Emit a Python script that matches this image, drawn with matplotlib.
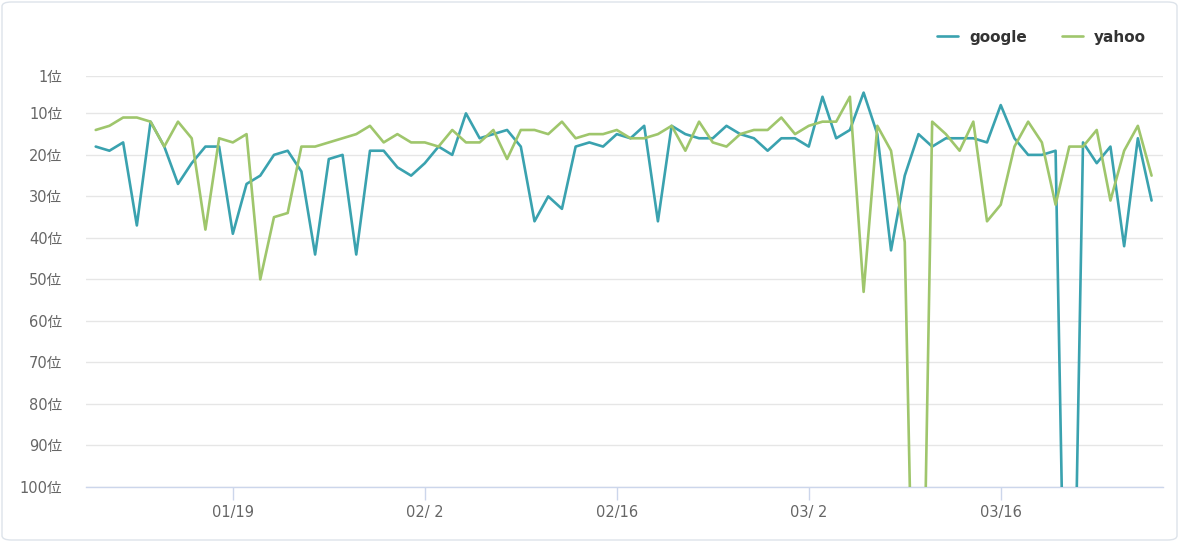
import numpy as np
import pandas as pd
import matplotlib
matplotlib.use("Agg")
import matplotlib.pyplot as plt
import matplotlib.dates as mdates
from matplotlib.patches import FancyBboxPatch

# ---------------------------------------------------------------------------
# Data: daily search ranking (200 = out of ranking, drawn off the chart)
# ---------------------------------------------------------------------------
START_DATE = "2023-01-09"

GOOGLE = [18, 19, 17, 37, 12, 18, 27, 22, 18, 18,
          39, 27, 25, 20, 19, 24, 44, 21, 20, 44,
          19, 19, 23, 25, 22, 18, 20, 10, 16, 15,
          14, 18, 36, 30, 33, 18, 17, 18, 15, 16,
          13, 36, 13, 15, 16, 16, 13, 15, 16, 19,
          16, 16, 18, 6, 16, 14, 5, 15, 43, 25,
          15, 18, 16, 16, 16, 17, 8, 16, 20, 20,
          19, 200, 17, 22, 18, 42, 16, 31]

YAHOO = [14, 13, 11, 11, 12, 18, 12, 16, 38, 16,
         17, 15, 50, 35, 34, 18, 18, 17, 16, 15,
         13, 17, 15, 17, 17, 18, 14, 17, 17, 14,
         21, 14, 14, 15, 12, 16, 15, 15, 14, 16,
         16, 15, 13, 19, 12, 17, 18, 15, 14, 14,
         11, 15, 13, 12, 12, 6, 53, 13, 19, 41,
         200, 12, 15, 19, 12, 36, 32, 18, 12, 17,
         32, 18, 18, 14, 31, 19, 13, 25]

SERIES_NAMES = ["google", "yahoo"]
TICK_DATES = ["2023-01-19", "2023-02-02", "2023-02-16", "2023-03-02", "2023-03-16"]
Y_TICKS = [1, 10, 20, 30, 40, 50, 60, 70, 80, 90, 100]

COLORS = ["#3aa2af", "#9fc66c"]
LABEL_COLOR = "#666666"

# ---------------------------------------------------------------------------
# Plot
# ---------------------------------------------------------------------------
# wide digits from DejaVu, 位 from the CJK family
plt.rcParams["font.family"] = ["DejaVu Sans", "Noto Sans CJK JP"]

dates = pd.date_range(START_DATE, periods=len(GOOGLE), freq="D")

fig = plt.figure(figsize=(11.79, 5.42), dpi=100)
W, H = 1179, 542
left, right, top, bottom = 86, 1163, 76, 487
ax = fig.add_axes([left / W, 1 - bottom / H, (right - left) / W, (bottom - top) / H])

# light rounded frame around the whole chart
frame = FancyBboxPatch((2 / W, 2 / H), 1 - 4 / W, 1 - 4 / H,
                       boxstyle="round,pad=0,rounding_size=0.008",
                       transform=fig.transFigure, facecolor="none",
                       edgecolor="#dde3ea", linewidth=1.0)
fig.patches.append(frame)

for values, name, colour in zip([GOOGLE, YAHOO], SERIES_NAMES, COLORS):
    ax.plot(dates, values, color=colour, linewidth=1.9, label=name,
            solid_joinstyle="round", solid_capstyle="round", zorder=3)

ax.set_ylim(100, 1)
ax.set_xlim(dates[0] - pd.Timedelta(hours=17), dates[-1] + pd.Timedelta(hours=20))

ax.set_yticks(Y_TICKS)
ax.set_yticklabels([f"{v}位" for v in Y_TICKS])
ax.grid(axis="y", color="#e6e6e6", linewidth=1.0)
ax.set_axisbelow(True)

tick_dates = pd.to_datetime(TICK_DATES)
ax.set_xticks(tick_dates)
ax.xaxis.set_major_formatter(
    matplotlib.ticker.FuncFormatter(
        lambda x, pos: (lambda d: f"{d.month:02d}/{d.day:2d}")(mdates.num2date(x))))

for side in ["top", "right", "left"]:
    ax.spines[side].set_visible(False)
ax.spines["bottom"].set_color("#ccd6eb")
ax.spines["bottom"].set_linewidth(1.0)

ax.tick_params(axis="y", length=0, pad=17, labelsize=10.5, labelcolor=LABEL_COLOR)
ax.tick_params(axis="x", length=9, width=1.0, color="#ccd6eb", pad=4,
               labelsize=10.5, labelcolor=LABEL_COLOR)

leg = fig.legend(loc="upper right", bbox_to_anchor=(1160 / W, 1 - 16 / H), ncol=2,
                 frameon=False, handlelength=1.35, handletextpad=0.75,
                 columnspacing=2.3, prop={"family": "DejaVu Sans", "weight": "bold",
                                          "size": 11})
for text in leg.get_texts():
    text.set_color("#333333")

fig.savefig("out.png", dpi=100)
